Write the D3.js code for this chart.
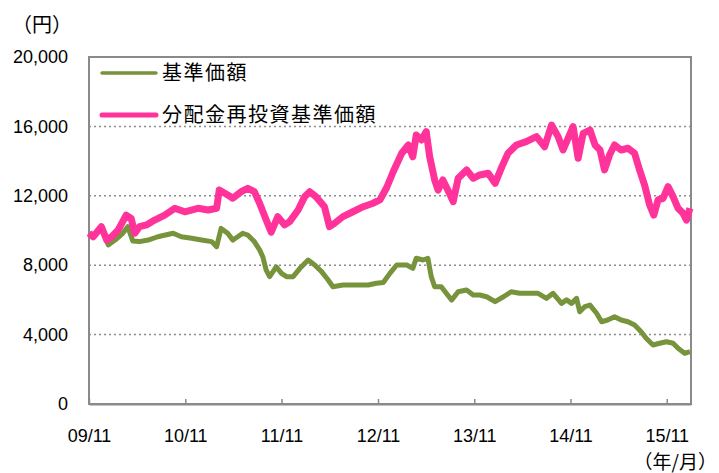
<!DOCTYPE html>
<html>
<head>
<meta charset="utf-8">
<script src="https://cdn.jsdelivr.net/npm/d3@7"></script>
<style>
  body { margin: 0; background: #fff; }
  svg { display: block; }
</style>
</head>
<body>
<svg id="chart"></svg>
<script>
// 分配金再投資基準価額
var reinvDates = ["2009-11-01","2009-11-17","2009-12-18","2010-01-07","2010-01-26","2010-02-20","2010-03-22","2010-04-10","2010-04-23","2010-05-12",
  "2010-06-07","2010-07-08","2010-08-15","2010-09-22","2010-10-30","2010-12-19","2011-01-27","2011-02-28","2011-03-10","2011-04-11",
  "2011-04-30","2011-06-01","2011-06-26","2011-07-21","2011-08-10","2011-09-04","2011-09-23","2011-10-18","2011-11-13","2011-12-02",
  "2012-01-03","2012-01-28","2012-02-16","2012-03-11","2012-04-12","2012-05-01","2012-05-20","2012-06-21","2012-07-29","2012-09-06",
  "2012-10-13","2012-11-08","2012-12-04","2012-12-29","2013-01-30","2013-02-24","2013-03-13","2013-03-26","2013-04-15","2013-05-03",
  "2013-05-16","2013-06-04","2013-06-17","2013-07-05","2013-07-30","2013-08-13","2013-09-01","2013-10-03","2013-10-28","2013-11-22",
  "2013-12-24","2014-01-19","2014-02-14","2014-03-09","2014-04-10","2014-05-17","2014-06-25","2014-07-26","2014-08-21","2014-09-15",
  "2014-10-04","2014-10-23","2014-11-11","2014-11-30","2014-12-19","2015-01-14","2015-02-02","2015-02-21","2015-03-10","2015-03-29",
  "2015-04-17","2015-05-12","2015-06-07","2015-07-02","2015-07-21","2015-08-09","2015-08-28","2015-09-13","2015-09-29","2015-10-18",
  "2015-11-06","2015-11-25","2015-12-14","2016-01-02","2016-01-15","2016-01-28"]
var reinvValues = [9850,9640,10220,9450,9640,10030,10890,10700,9840,10220,
  10320,10600,10890,11280,11080,11280,11180,11280,12330,12050,
  11860,12240,12430,12240,11570,10600,9900,10800,10320,10510,
  11180,11950,12240,11950,11370,10220,10410,10800,11080,11370,
  11570,11760,12480,13400,14450,14930,14250,15500,15220,15700,
  14250,12910,12330,12910,12140,11660,13010,13490,13010,13200,
  13300,12720,13680,14450,14930,15120,15410,14830,16080,15410,
  14640,15320,15980,14160,15600,15790,14930,14640,13490,14350,
  14930,14640,14740,14450,13490,12620,11470,10890,11760,11850,
  12530,11950,11280,10990,10600,11280]

// 基準価額
var navDates = ["2009-11-01","2009-11-17","2009-12-18","2010-01-13","2010-02-08","2010-03-09","2010-03-28","2010-04-16","2010-05-12","2010-06-13",
  "2010-07-20","2010-09-16","2010-10-17","2010-11-25","2011-01-02","2011-02-09","2011-02-28","2011-03-17","2011-04-11","2011-04-30",
  "2011-05-19","2011-06-07","2011-06-26","2011-07-21","2011-08-10","2011-08-22","2011-09-04","2011-09-17","2011-10-12","2011-11-01",
  "2011-11-20","2011-12-15","2012-01-10","2012-02-10","2012-03-06","2012-04-01","2012-04-26","2012-05-14","2012-06-21","2012-08-12",
  "2012-09-25","2012-10-26","2012-11-21","2012-12-16","2013-01-11","2013-02-18","2013-03-13","2013-03-26","2013-04-21","2013-05-09",
  "2013-05-22","2013-06-04","2013-06-29","2013-07-18","2013-08-07","2013-09-01","2013-10-03","2013-10-28","2013-11-22","2013-12-18",
  "2014-01-19","2014-02-20","2014-03-21","2014-04-22","2014-05-30","2014-07-01","2014-08-02","2014-08-27","2014-09-28","2014-10-17",
  "2014-11-05","2014-11-24","2014-12-06","2014-12-25","2015-01-14","2015-02-08","2015-02-27","2015-03-22","2015-04-17","2015-05-12",
  "2015-06-07","2015-07-02","2015-07-27","2015-08-15","2015-09-10","2015-10-05","2015-10-31","2015-11-25","2015-12-14","2016-01-08",
  "2016-01-28"]
var navValues = [9850,9640,10150,9170,9450,9840,10220,9400,9360,9450,
  9640,9840,9640,9550,9450,9360,9070,10120,9840,9450,
  9640,9840,9740,9360,8880,8490,7720,7340,7910,7530,
  7340,7340,7820,8300,8010,7630,7150,6760,6860,6860,
  6860,6960,7000,7530,8010,8010,7820,8400,8300,8400,
  7340,6760,6760,6380,5990,6470,6570,6280,6280,6180,
  5900,6180,6470,6380,6380,6380,6090,6380,5800,6000,
  5800,6090,5320,5610,5700,5230,4740,4840,5030,4840,
  4740,4550,4170,3790,3400,3500,3590,3500,3210,2920,
  3020]

var yTicks = [0, 4000, 8000, 12000, 16000, 20000]
var xTickDates = ["2009-11-01","2010-11-01","2011-11-01","2012-11-01","2013-11-01","2014-11-01","2015-11-01"]
var seriesNames = ["基準価額", "分配金再投資基準価額"]
var seriesColors = ["#77933c", "#ff3399"]

var dimensions = ({
    width: 719,
    height: 473,
    margin: { top: 57, bottom: 69, right: 28, left: 89 }
})
var innerW = dimensions.width - dimensions.margin.left - dimensions.margin.right
var innerH = dimensions.height - dimensions.margin.top - dimensions.margin.bottom

var parse = d3.timeParse("%Y-%m-%d")
var numFont = "'Liberation Sans', Arial, sans-serif"
var jpFont = "'Noto Sans CJK JP', 'Noto Sans', sans-serif"

var svg = d3.select("#chart")
            .attr("width", dimensions.width)
            .attr("height", dimensions.height)

var xScale = d3.scaleTime()
               .domain([parse("2009-11-01"), parse("2016-02-01")])
               .range([0, innerW])

var yScale = d3.scaleLinear()
               .domain([0, 20000])
               .range([innerH, 0])

var g = svg.append("g")
           .attr("transform", "translate(" + dimensions.margin.left + "," + dimensions.margin.top + ")")

// dotted grid
g.append("g")
 .selectAll("line")
 .data(yTicks.filter(function(d){ return d > 0 && d < 20000 }))
 .enter()
 .append("line")
 .attr("x1", 0).attr("x2", innerW)
 .attr("y1", function(d){ return yScale(d) })
 .attr("y2", function(d){ return yScale(d) })
 .attr("stroke", "#8c8c8c")
 .attr("stroke-width", 1.5)
 .attr("stroke-dasharray", "2,3")

// plot frame
g.append("rect")
 .attr("x", 0).attr("y", 0)
 .attr("width", innerW).attr("height", innerH)
 .attr("fill", "none")
 .attr("stroke", "#8a8a8a")
 .attr("stroke-width", 2)

// y axis labels
var yAxis = d3.axisLeft(yScale)
              .tickValues(yTicks)
              .tickFormat(d3.format(","))
              .tickSize(0)
              .tickPadding(21)
g.append("g")
 .call(yAxis)
 .call(function(s){ s.select(".domain").remove() })
 .selectAll("text")
 .style("font-family", numFont)
 .style("font-size", "18px")
 .attr("fill", "#000")

// x axis with inward ticks
var xAxis = d3.axisBottom(xScale)
              .tickValues(xTickDates.map(parse))
              .tickFormat(d3.timeFormat("%y/%m"))
              .tickSize(-5)
              .tickPadding(25)
              .tickSizeOuter(0)
var xg = g.append("g")
          .attr("transform", "translate(0," + innerH + ")")
          .call(xAxis)
xg.select(".domain").attr("stroke", "#8a8a8a").attr("stroke-width", 2)
xg.selectAll(".tick line").attr("stroke", "#8a8a8a").attr("stroke-width", 1.5)
xg.selectAll("text")
  .style("font-family", numFont)
  .style("font-size", "18px")
  .attr("fill", "#000")

// lines
var line = d3.line()
             .x(function(d){ return xScale(d.date) })
             .y(function(d){ return yScale(d.value) })

var navData = navDates.map(function(d, i){ return { date: parse(d), value: navValues[i] } })
var reinvData = reinvDates.map(function(d, i){ return { date: parse(d), value: reinvValues[i] } })

g.append("path")
 .datum(navData)
 .attr("d", line)
 .attr("fill", "none")
 .attr("stroke", seriesColors[0])
 .attr("stroke-width", 5)
 .attr("stroke-linejoin", "round")

g.append("path")
 .datum(reinvData)
 .attr("d", line)
 .attr("fill", "none")
 .attr("stroke", seriesColors[1])
 .attr("stroke-width", 7)
 .attr("stroke-linejoin", "round")

// legend
var legend = g.append("g")
              .selectAll("g")
              .data(seriesNames)
              .enter()
              .append("g")
              .attr("transform", function(d, i){ return "translate(13," + (16 + i * 42) + ")" })
legend.append("line")
      .attr("x1", 0).attr("x2", 54)
      .attr("y1", 0).attr("y2", 0)
      .attr("stroke", function(d, i){ return seriesColors[i] })
      .attr("stroke-width", function(d, i){ return i ? 5 : 3.5 })
      .attr("stroke-linecap", "round")
legend.append("text")
      .attr("x", 60).attr("y", 0)
      .attr("dy", "0.35em")
      .style("font-family", jpFont)
      .style("font-size", "20px")
      .style("letter-spacing", "1.5px")
      .text(function(d){ return d })

// unit labels
svg.append("text")
   .attr("x", 42).attr("y", 25)
   .attr("dy", "0.35em")
   .attr("text-anchor", "middle")
   .style("font-family", jpFont)
   .style("font-size", "20px")
   .text("（円）")

svg.append("text")
   .attr("x", 717).attr("y", 462)
   .attr("dy", "0.35em")
   .attr("text-anchor", "end")
   .style("font-family", jpFont)
   .style("font-size", "19px")
   .text("（年/月）")
</script>
</body>
</html>
